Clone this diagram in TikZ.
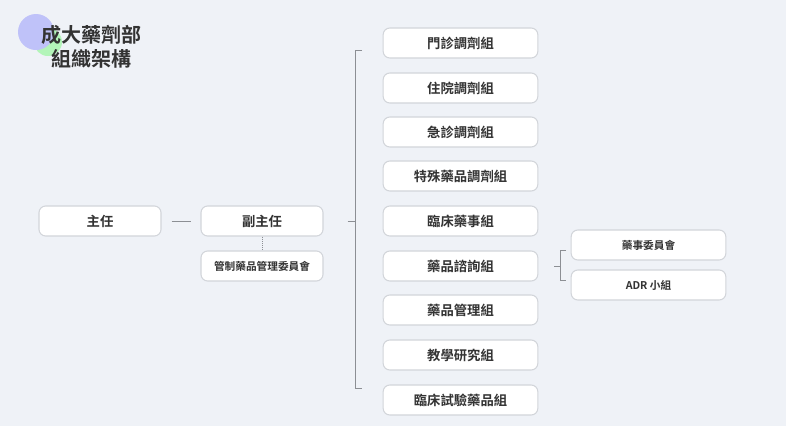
\documentclass[tikz,border=0pt]{standalone}
\usepackage{fontspec}
\setmainfont{Noto Sans CJK TC}[BoldFont={Noto Sans CJK TC Bold}]
\usetikzlibrary{positioning,calc}
\definecolor{bgcol}{HTML}{EFF2F7}
\definecolor{boxline}{HTML}{D2D5DA}
\definecolor{linecol}{HTML}{8C8F94}
\definecolor{txtcol}{HTML}{333333}
\tikzset{
        block/.style = {draw=boxline, fill=white, rounded corners=5pt,
            line width=0.8pt, text=txtcol, font=\bfseries\fontsize{10}{12}\selectfont,
            minimum height=22.5pt, minimum width=91.5pt},
        subblock/.style = {block, minimum width=116pt},
        smallblock/.style = {block, font=\bfseries\fontsize{8}{10}\selectfont},
        link/.style = {draw=linecol, line width=0.6pt},
    }
\begin{document}
\begin{tikzpicture}[x=0.75pt,y=0.75pt,yscale=-1,xscale=1]
\fill[bgcol] (0,0) rectangle (786,426);
\useasboundingbox (0,0) rectangle (786,426);

% Title
\fill[green!25!bgcol] (48,42) circle (14);
\fill[blue!20!bgcol] (36,32) circle (18);
\node[text=txtcol, font=\bfseries\fontsize{15}{18}\selectfont, align=center] (title) at (91,47) {成大藥劑部\\組織架構};

% Left part
\node[block] (chief) at (100,221) {主任};
\node[block] (deputy) at (262,221) {副主任};
\node[smallblock, minimum height=22.5pt] (control) at (262,266) {管制藥品管理委員會};
\draw[link] ($(chief.east)+(10,0)$) -- ($(deputy.west)+(-9,0)$);
\draw[link, densely dotted] (deputy.south) -- (control.north);

% Right column
\foreach \name/\txt/\yy in {g1/門診調劑組/43, g2/住院調劑組/88, g3/急診調劑組/132,
    g4/特殊藥品調劑組/176, g5/臨床藥事組/221, g6/藥品諮詢組/266,
    g7/藥品管理組/310, g8/教學研究組/355, g9/臨床試驗藥品組/400}
  \node[subblock] (\name) at (460.5,\yy) {\txt};

\coordinate (btop) at (355,50);
\coordinate (bbot) at (355,388);
\draw[link] ($(btop)+(7,0)$) -- (btop) -- (bbot) -- ($(bbot)+(7,0)$);
\draw[link] ($(deputy.east)+(24,0)$) -- (deputy.east -| btop);

% Consult sub-groups
\node[smallblock, minimum width=116pt] (s1) at (648.5,245) {藥事委員會};
\node[smallblock, minimum width=116pt] (s2) at (648.5,285) {ADR 小組};
\coordinate (ctop) at (560,250);
\coordinate (cbot) at (560,280);
\draw[link] ($(ctop)+(6,0)$) -- (ctop) -- (cbot) -- ($(cbot)+(6,0)$);
\draw[link] ($(g6.east)+(16,0)$) -- (g6.east -| ctop);
\end{tikzpicture}
\end{document}
